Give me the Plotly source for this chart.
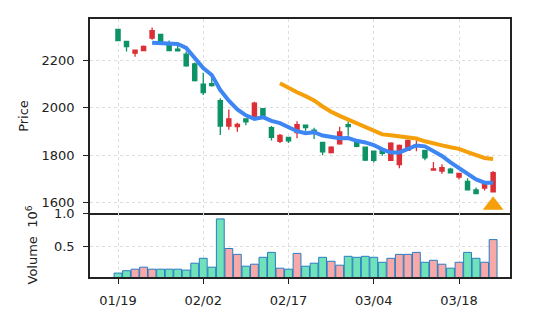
import plotly.graph_objects as go

# ---- data ----
dates = ['01/19', '01/20', '01/21', '01/22', '01/23', '01/26', '01/27', '01/28', '01/29', '01/30',
         '02/02', '02/03', '02/04', '02/05', '02/06', '02/09', '02/10', '02/11', '02/12', '02/13',
         '02/17', '02/18', '02/19', '02/20', '02/23', '02/24', '02/25', '02/26', '02/27', '03/02',
         '03/04', '03/05', '03/06', '03/09', '03/10', '03/11', '03/12', '03/13', '03/16', '03/17',
         '03/18', '03/19', '03/20', '03/23', '03/24']

opens = [2329, 2278, 2229, 2240, 2292, 2308, 2271, 2246, 2225, 2184,
         2099, 2101, 2030, 1923, 1921, 1953, 1964, 1996, 1916, 1858,
         1875, 1895, 1927, 1906, 1854, 1811, 1848, 1929, 1856, 1834,
         1817, 1822, 1779, 1761, 1821, 1838, 1821, 1738, 1734, 1742,
         1708, 1690, 1655, 1662, 1646]
highs = [2332, 2280, 2244, 2261, 2337, 2310, 2282, 2261, 2236, 2190,
         2147, 2136, 2040, 1992, 1937, 1956, 2025, 1998, 1923, 1889,
         1877, 1943, 1929, 1916, 1856, 1838, 1920, 1942, 1858, 1836,
         1819, 1826, 1855, 1845, 1866, 1862, 1823, 1772, 1762, 1748,
         1726, 1703, 1665, 1681, 1734]
lows = [2279, 2236, 2214, 2238, 2285, 2276, 2238, 2237, 2172, 2110,
        2053, 2088, 1885, 1907, 1899, 1926, 1962, 1956, 1862, 1852,
        1852, 1872, 1902, 1868, 1800, 1807, 1844, 1882, 1834, 1776,
        1770, 1798, 1777, 1745, 1819, 1817, 1779, 1737, 1722, 1724,
        1698, 1653, 1637, 1652, 1645]
closes = [2282, 2257, 2242, 2257, 2324, 2278, 2240, 2239, 2176, 2114,
          2063, 2093, 1923, 1953, 1930, 1940, 2019, 1958, 1875, 1883,
          1861, 1929, 1916, 1895, 1814, 1834, 1898, 1920, 1838, 1780,
          1779, 1808, 1851, 1841, 1862, 1845, 1789, 1743, 1748, 1726,
          1724, 1655, 1639, 1679, 1727]
volume_m = [0.094, 0.13, 0.153, 0.183, 0.153, 0.153, 0.153, 0.153, 0.139, 0.243,
            0.317, 0.183, 0.911, 0.465, 0.376, 0.198, 0.228, 0.332, 0.406, 0.168,
            0.153, 0.391, 0.198, 0.243, 0.332, 0.272, 0.213, 0.347, 0.332, 0.347,
            0.332, 0.257, 0.317, 0.376, 0.376, 0.406, 0.257, 0.287, 0.228, 0.168,
            0.257, 0.406, 0.317, 0.257, 0.599]
ma5 = [None, None, None, None,
       2272.4, 2271.6, 2268.2, 2267.6, 2251.4, 2209.4, 2166.4, 2137.0, 2073.8, 2029.2,
       1992.4, 1967.8, 1953.0, 1960.0, 1944.4, 1935.0, 1919.2, 1901.2, 1892.8, 1896.8,
       1883.0, 1877.6, 1871.4, 1872.2, 1860.8, 1854.0, 1843.0, 1825.0, 1811.2, 1811.8,
       1828.2, 1841.4, 1837.6, 1816.0, 1797.4, 1770.2, 1746.0, 1719.2, 1698.4, 1684.6,
       1684.8]
ma20 = [None] * 19 + [
    2102.3, 2081.3, 2064.9, 2048.6, 2030.5, 2005.0, 1982.8, 1965.7, 1949.7, 1932.8,
    1916.1, 1901.9, 1887.7, 1884.1, 1878.5, 1875.1, 1870.3, 1858.8, 1848.1, 1841.7,
    1833.9, 1827.0, 1813.3, 1799.5, 1788.7, 1784.3]
buy_signal = [None] * 44 + [1590]
tick_labels = ['01/19', '02/02', '02/17', '03/04', '03/18']
price_ticks = [1600, 1800, 2000, 2200]
volume_ticks = [0.5, 1.0]

# ---- style ----
UP = '#dc2f36'
DOWN = '#0c9265'
VOL_UP = '#f7a8a8'
VOL_DOWN = '#6fe2b9'
vol_colors = [VOL_UP if c >= o else VOL_DOWN for o, c in zip(opens, closes)]
XRANGE = [-3.284, 45.98]
GRID = dict(showgrid=True, gridcolor='#dedede', gridwidth=1, griddash='dot')
AXCOL = '#222222'

fig = go.Figure()
fig.add_trace(go.Candlestick(
    x=dates, open=opens, high=highs, low=lows, close=closes,
    increasing=dict(line=dict(color=UP, width=1.3), fillcolor=UP),
    decreasing=dict(line=dict(color=DOWN, width=1.3), fillcolor=DOWN),
    whiskerwidth=0, xaxis='x', yaxis='y', hoverinfo='skip'))
fig.add_trace(go.Scatter(x=dates, y=ma5, mode='lines',
                         line=dict(color='#3d86f4', width=4), xaxis='x', yaxis='y'))
fig.add_trace(go.Scatter(x=dates, y=ma20, mode='lines',
                         line=dict(color='#f5a00a', width=4), xaxis='x', yaxis='y'))
fig.add_trace(go.Scatter(x=dates, y=buy_signal, mode='markers',
                         marker=dict(symbol='triangle-up', size=18, color='#f5a00a'),
                         xaxis='x', yaxis='y'))
fig.add_trace(go.Bar(x=dates, y=volume_m, width=0.92,
                     marker=dict(color=vol_colors, line=dict(color='#2a7cc2', width=1)),
                     xaxis='x2', yaxis='y2'))

fig.update_layout(
    width=537, height=322,
    margin=dict(l=90, r=27, t=15, b=45),
    paper_bgcolor='white', plot_bgcolor='white',
    showlegend=False,
    font=dict(family='DejaVu Sans', size=13, color=AXCOL),
    xaxis=dict(domain=[0, 1], anchor='y', type='category', matches='x2',
               range=XRANGE, rangeslider=dict(visible=False),
               tickmode='array', tickvals=tick_labels, showticklabels=False, ticks='',
               showline=True, mirror=True, linecolor=AXCOL, linewidth=1.5,
               **GRID),
    yaxis=dict(domain=[0.248, 1], anchor='x', range=[1557.4, 2372.6],
               tickmode='array', tickvals=price_ticks,
               ticks='outside', ticklen=5, tickcolor=AXCOL, ticklabelstandoff=6,
               showline=True, mirror=True, linecolor=AXCOL, linewidth=1.5,
               title=dict(text='Price', standoff=10, font=dict(size=13)),
               **GRID),
    xaxis2=dict(domain=[0, 1], anchor='y2', type='category',
                range=XRANGE,
                tickmode='array', tickvals=tick_labels,
                ticks='outside', ticklen=5, tickcolor=AXCOL, ticklabelstandoff=6,
                showline=True, mirror=False, linecolor=AXCOL, linewidth=1.5,
                **GRID),
    yaxis2=dict(domain=[0, 0.248], anchor='x2', range=[0.035, 1.0],
                tickmode='array', tickvals=volume_ticks, tickformat='.1f',
                ticks='outside', ticklen=5, tickcolor=AXCOL, ticklabelstandoff=6,
                showline=True, mirror=True, linecolor=AXCOL, linewidth=1.5,
                title=dict(text='Volume  10<sup>6</sup>', standoff=13, font=dict(size=13)),
                **GRID),
)

fig.write_html('out.html')
